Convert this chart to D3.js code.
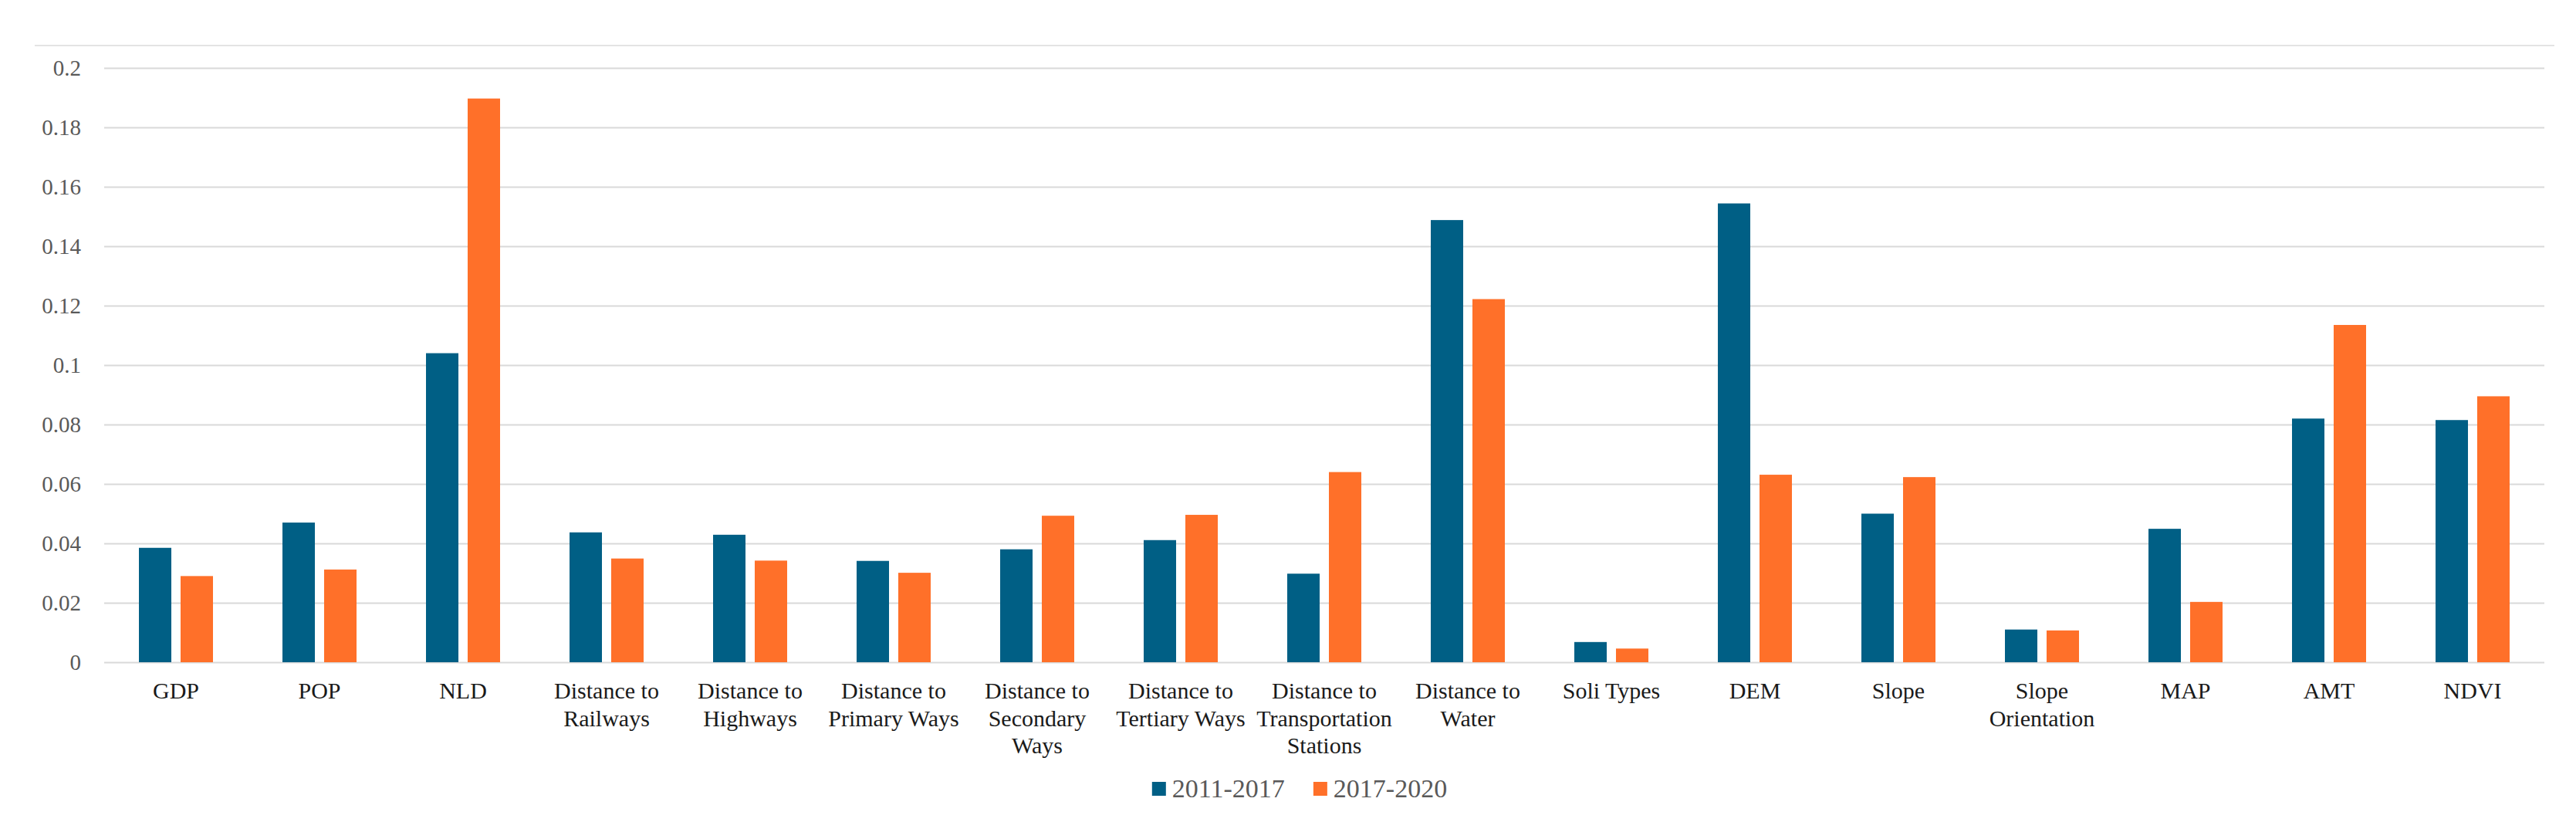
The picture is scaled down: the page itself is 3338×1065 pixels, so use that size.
<!DOCTYPE html>
<html>
<head>
<meta charset="utf-8">
<script src="https://cdn.jsdelivr.net/npm/d3@7"></script>
<style>
  body { margin: 0; background: #fff; }
  text { font-family: "Liberation Serif", "Times New Roman", serif; }
</style>
</head>
<body>
<div id="chart"></div>
<script>
// chart data
var categories = ["GDP", "POP", "NLD", "Distance to\nRailways", "Distance to\nHighways",
  "Distance to\nPrimary Ways", "Distance to\nSecondary\nWays", "Distance to\nTertiary Ways",
  "Distance to\nTransportation\nStations", "Distance to\nWater", "Soli Types", "DEM", "Slope",
  "Slope\nOrientation", "MAP", "AMT", "NDVI"];
var seriesNames = ["2011-2017", "2017-2020"];
var values2011 = [0.0385, 0.047, 0.104, 0.0437, 0.0429, 0.0341, 0.038, 0.0411, 0.0298, 0.1488,
  0.0068, 0.1544, 0.050, 0.011, 0.0449, 0.082, 0.0815];
var values2017 = [0.029, 0.0312, 0.1897, 0.0349, 0.0342, 0.0301, 0.0493, 0.0496, 0.064, 0.1222,
  0.0046, 0.0631, 0.0623, 0.0107, 0.0203, 0.1135, 0.0895];
var yTicks = [0, 0.02, 0.04, 0.06, 0.08, 0.1, 0.12, 0.14, 0.16, 0.18, 0.2];

var colors = ["#005F85", "#FF7029"];

var svgWidth = 3338;
var svgHeight = 1065;
var margin = { top: 88, right: 41, bottom: 207, left: 135 };
var width = svgWidth - margin.left - margin.right;
var height = svgHeight - margin.top - margin.bottom;

var svg = d3.select("#chart")
  .append("svg")
  .attr("width", svgWidth)
  .attr("height", svgHeight);

// faint top border of the chart box
svg.append("line")
  .attr("x1", 45).attr("x2", 3310)
  .attr("y1", 59).attr("y2", 59)
  .attr("stroke", "#e3e3e3")
  .attr("stroke-width", 2);

var chartGroup = svg.append("g")
  .attr("transform", `translate(${margin.left}, ${margin.top})`);

var x0 = d3.scaleBand()
  .domain(categories)
  .range([0, width])
  .paddingInner(0.484)
  .paddingOuter(0.242);

var x1 = d3.scaleBand()
  .domain(seriesNames)
  .range([0, x0.bandwidth()])
  .paddingInner(0.222);

var yScale = d3.scaleLinear()
  .domain([0, 0.2])
  .range([height, 0]);

// y axis with gridlines
var yAxis = d3.axisLeft(yScale)
  .tickValues(yTicks)
  .tickFormat(d3.format(".2~f"))
  .tickSize(-width)
  .tickPadding(30);

var yG = chartGroup.append("g").call(yAxis);
yG.select(".domain").remove();
yG.selectAll(".tick line")
  .attr("stroke", "#d9d9d9")
  .attr("stroke-width", 2);
yG.selectAll(".tick text")
  .attr("fill", "#595959")
  .attr("font-size", 29)
  .attr("font-family", "Liberation Serif");

// bars
var rows = categories.map(function(c, i) {
  return { cat: c, vals: [values2011[i], values2017[i]] };
});

var groups = chartGroup.selectAll(".grp")
  .data(rows)
  .enter()
  .append("g")
  .attr("class", "grp")
  .attr("transform", d => `translate(${x0(d.cat)}, 0)`);

groups.selectAll("rect")
  .data(d => d.vals.map((v, j) => ({ key: seriesNames[j], value: v, j: j })))
  .enter()
  .append("rect")
  .attr("x", d => x1(d.key))
  .attr("width", x1.bandwidth())
  .attr("y", d => yScale(d.value))
  .attr("height", d => height - yScale(d.value))
  .attr("fill", d => colors[d.j]);

// category labels
var labels = chartGroup.selectAll(".xlabel")
  .data(categories)
  .enter()
  .append("text")
  .attr("class", "xlabel")
  .attr("text-anchor", "middle")
  .attr("font-size", 30)
  .attr("fill", "#1a1a1a")
  .attr("transform", d => `translate(${x0(d) + x0.bandwidth() / 2}, ${height + 47})`);

labels.each(function(d) {
  var t = d3.select(this);
  d.split("\n").forEach(function(line, k) {
    t.append("tspan")
      .attr("x", 0)
      .attr("y", k * 35.5)
      .text(line);
  });
});

// legend
var legend = svg.append("g");
var lx = 0;
seriesNames.forEach(function(name, j) {
  var item = legend.append("g").attr("transform", `translate(${lx}, 0)`);
  item.append("rect")
    .attr("x", 0).attr("y", -20)
    .attr("width", 18).attr("height", 18)
    .attr("fill", colors[j]);
  var txt = item.append("text")
    .attr("x", 26).attr("y", 0)
    .attr("font-size", 34)
    .attr("fill", "#595959")
    .text(name);
  lx += 26 + txt.node().getComputedTextLength() + 37;
});
var legendW = lx - 37;
legend.attr("transform", `translate(${1684 - legendW / 2}, 1033)`);
</script>
</body>
</html>
